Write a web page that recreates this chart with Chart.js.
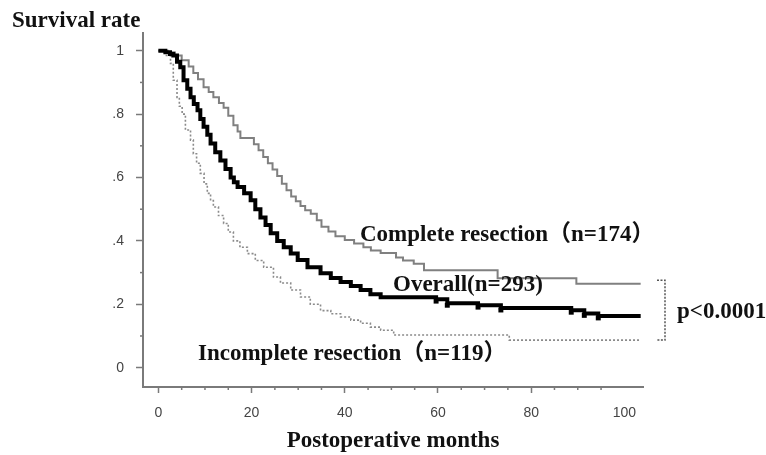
<!DOCTYPE html>
<html>
<head>
<meta charset="utf-8">
<script src="https://cdn.jsdelivr.net/npm/chart.js@4.4.0/dist/chart.umd.min.js"></script>
<style>
  html, body { margin: 0; padding: 0; background: #fff; }
</style>
</head>
<body>
<canvas id="kmChart" width="766" height="455"></canvas>
<script>
// Kaplan-Meier curves, values (months, survival)
const completeMonths = [0, 2, 3.5, 5, 6.5, 7.5, 8.5, 9.7, 10.8, 11.8, 13, 14, 15, 16.1, 17, 17.6, 20.5, 21.5, 22.5, 23.5, 24.5, 25.5, 26.5, 27.5, 28.5, 29.5, 30.5, 31.5, 32.7, 34, 35, 36.5, 38, 40, 42, 44, 45.6, 47.7, 51, 52.5, 54.8, 57, 72.8, 89.7, 103.5];
const completeSurv = [1, 0.995, 0.985, 0.97, 0.95, 0.93, 0.91, 0.885, 0.87, 0.853, 0.835, 0.82, 0.795, 0.765, 0.745, 0.725, 0.705, 0.686, 0.665, 0.645, 0.625, 0.605, 0.58, 0.56, 0.54, 0.525, 0.51, 0.497, 0.486, 0.465, 0.445, 0.43, 0.415, 0.403, 0.392, 0.38, 0.37, 0.362, 0.348, 0.338, 0.328, 0.307, 0.282, 0.265, 0.265];

const overallMonths = [0, 1.5, 2.5, 3.2, 4, 4.7, 5.4, 6.2, 6.9, 7.6, 8.4, 9, 9.7, 10.5, 11.2, 12.2, 13.3, 14.4, 15.5, 16.2, 17, 18.4, 19.8, 20.8, 21.9, 23, 24.1, 25.5, 26.9, 28.4, 29.9, 32, 34.8, 37, 39.1, 41.3, 43.4, 45.5, 47.7, 59.6, 62, 68.6, 73.5, 88.6, 91.4, 94.4, 103.5];
const overallSurv = [1, 0.995, 0.99, 0.985, 0.965, 0.948, 0.907, 0.88, 0.853, 0.832, 0.812, 0.785, 0.76, 0.735, 0.707, 0.68, 0.654, 0.627, 0.6, 0.585, 0.57, 0.55, 0.528, 0.5, 0.474, 0.45, 0.424, 0.4, 0.38, 0.36, 0.34, 0.317, 0.298, 0.283, 0.27, 0.258, 0.245, 0.232, 0.222, 0.216, 0.203, 0.197, 0.188, 0.181, 0.171, 0.163, 0.163];
const overallCensored = [59.6, 62, 68.6, 73.5, 88.6, 91.4, 94.4];

const incompleteMonths = [0, 1.5, 2.6, 3.2, 4, 4.5, 5.1, 5.8, 6.9, 7.5, 8.2, 9, 9.8, 10.5, 11.2, 11.8, 12.9, 14, 15, 16.1, 17.5, 19.1, 20.8, 22.6, 24.7, 26.2, 28.4, 30.5, 32.6, 34.8, 37, 39.1, 41.3, 43.4, 45.5, 47.7, 50.5, 75.3, 103.5];
const incompleteSurv = [1, 0.985, 0.96, 0.907, 0.853, 0.825, 0.8, 0.75, 0.718, 0.675, 0.645, 0.613, 0.58, 0.55, 0.527, 0.507, 0.48, 0.455, 0.428, 0.4, 0.38, 0.36, 0.338, 0.317, 0.286, 0.267, 0.245, 0.223, 0.2, 0.18, 0.17, 0.16, 0.15, 0.14, 0.128, 0.118, 0.103, 0.087, 0.087];

// axis ticks
const xTicks = [0, 20, 40, 60, 80, 100];
const xMinorTicks = [5, 10, 15, 25, 30, 35, 45, 50, 55, 65, 70, 75, 85, 90, 95];
const yTicks = [0, 0.2, 0.4, 0.6, 0.8, 1];
const yTickLabels = ['0', '.2', '.4', '.6', '.8', '1'];
const yMinorTicks = [0.1, 0.3, 0.5, 0.7, 0.9];

const axisColor = '#7a7a7a';
const serif = "'Liberation Serif', 'Times New Roman', 'Noto Sans CJK JP', serif";
const sans = "'Liberation Sans', Arial, sans-serif";

function toPoints(months, surv) {
    return months.map((m, i) => ({ x: m, y: surv[i] }));
}

// value of a step curve at time t
function survAt(months, surv, t) {
    let v = surv[0];
    for (let i = 0; i < months.length; i++) {
        if (months[i] <= t) v = surv[i];
    }
    return v;
}

// minor ticks, curve labels and the p-value bracket
const extrasPlugin = {
    id: 'kmExtras',
    afterDraw(chart) {
        const { ctx, chartArea } = chart;
        const x = chart.scales.x;
        const y = chart.scales.y;
        ctx.save();
        ctx.strokeStyle = axisColor;
        ctx.lineWidth = 1.5;
        xMinorTicks.forEach(v => {
            const px = x.getPixelForValue(v);
            ctx.beginPath();
            ctx.moveTo(px, chartArea.bottom);
            ctx.lineTo(px, chartArea.bottom + 3);
            ctx.stroke();
        });
        yMinorTicks.forEach(v => {
            const py = y.getPixelForValue(v);
            ctx.beginPath();
            ctx.moveTo(chartArea.left, py);
            ctx.lineTo(chartArea.left - 3, py);
            ctx.stroke();
        });

        // bracket
        const bx = chartArea.right + 22;
        const top = y.getPixelForValue(0.276);
        const bot = y.getPixelForValue(0.087);
        ctx.strokeStyle = '#555';
        ctx.lineWidth = 1.5;
        ctx.setLineDash([2, 1.5]);
        ctx.beginPath();
        ctx.moveTo(bx - 8, top);
        ctx.lineTo(bx, top);
        ctx.lineTo(bx, bot);
        ctx.lineTo(bx - 8, bot);
        ctx.stroke();
        ctx.setLineDash([]);

        ctx.fillStyle = '#111';
        ctx.textBaseline = 'alphabetic';
        ctx.textAlign = 'left';
        ctx.font = 'bold 23px ' + serif;
        ctx.fillText('Survival rate', 12, 27);
        ctx.fillText('Complete resection（n=174）', 360, 241);
        ctx.fillText('Overall(n=293)', 393, 291);
        ctx.fillText('Incomplete resection（n=119）', 198, 360);
        ctx.fillText('p<0.0001', 677, 318);
        ctx.restore();
    }
};

const ctx = document.getElementById('kmChart').getContext('2d');
const kmChart = new Chart(ctx, {
    type: 'line',
    data: {
        datasets: [
            {
                label: 'Overall(n=293)',
                data: toPoints(overallMonths, overallSurv),
                stepped: true,
                borderColor: '#000',
                borderWidth: 4,
                pointRadius: 0,
                fill: false
            },
            {
                label: 'Censored',
                data: overallCensored.map(t => ({ x: t, y: survAt(overallMonths, overallSurv, t) - 0.006 })),
                showLine: false,
                pointStyle: 'rect',
                pointRadius: 3.5,
                pointBackgroundColor: '#000',
                pointBorderColor: '#000',
                pointBorderWidth: 0
            },
            {
                label: 'Complete resection（n=174）',
                data: toPoints(completeMonths, completeSurv),
                stepped: true,
                borderColor: '#808080',
                borderWidth: 2,
                pointRadius: 0,
                fill: false
            },
            {
                label: 'Incomplete resection（n=119）',
                data: toPoints(incompleteMonths, incompleteSurv),
                stepped: true,
                borderColor: '#8a8a8a',
                borderWidth: 1.6,
                borderDash: [2, 2],
                pointRadius: 0,
                fill: false
            }
        ]
    },
    options: {
        responsive: false,
        animation: false,
        devicePixelRatio: 1,
        layout: { padding: { top: 33, right: 123, left: 0, bottom: 0 } },
        plugins: {
            legend: { display: false },
            tooltip: { enabled: false }
        },
        scales: {
            x: {
                type: 'linear',
                min: -3.3,
                max: 104,
                afterBuildTicks: s => { s.ticks = xTicks.map(v => ({ value: v })); },
                afterFit: s => { s.height = 68; },
                border: { color: axisColor, width: 2 },
                grid: {
                    drawOnChartArea: false,
                    tickLength: 6,
                    tickWidth: 1.5,
                    tickColor: c => (c.tick && c.tick.value === 100) ? 'rgba(0,0,0,0)' : axisColor
                },
                ticks: {
                    color: '#444',
                    font: { family: sans, size: 14 },
                    padding: 12,
                    maxRotation: 0,
                    autoSkip: false
                },
                title: {
                    display: true,
                    text: 'Postoperative months',
                    color: '#111',
                    font: { family: serif, size: 23, weight: 'bold' },
                    padding: { top: 0, bottom: 0 }
                }
            },
            y: {
                type: 'linear',
                min: -0.061,
                max: 1.056,
                afterBuildTicks: s => { s.ticks = yTicks.map(v => ({ value: v })); },
                afterFit: s => { s.width = 143; },
                border: { color: axisColor, width: 2 },
                grid: {
                    drawOnChartArea: false,
                    tickLength: 7,
                    tickWidth: 1.5,
                    tickColor: axisColor
                },
                ticks: {
                    color: '#444',
                    font: { family: sans, size: 14 },
                    padding: 12,
                    callback: (v, i) => yTickLabels[i]
                }
            }
        }
    },
    plugins: [extrasPlugin]
});
</script>
</body>
</html>
